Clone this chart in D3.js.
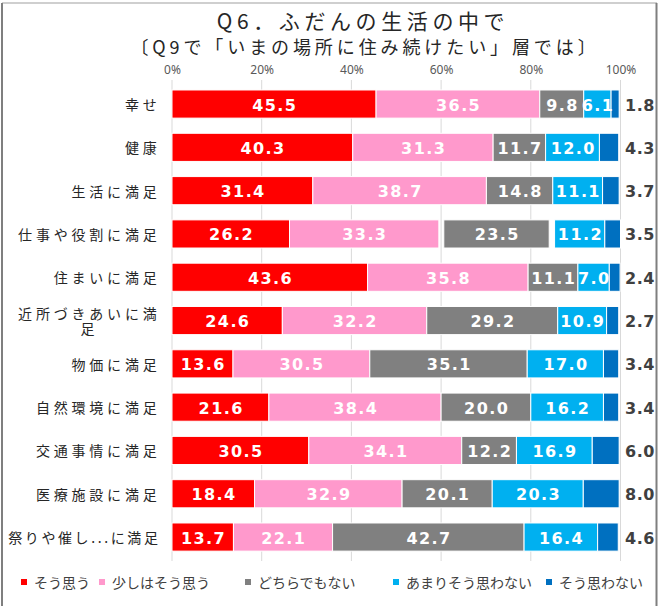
<!DOCTYPE html>
<html>
<head>
<meta charset="utf-8">
<script src="https://cdn.jsdelivr.net/npm/d3@7"></script>
<style>
  body { margin: 0; background: #fff; }
  #chart { width: 661px; height: 606px; }
</style>
</head>
<body>
<div id="chart"></div>
<script>
// --- data ---
const categories = [
  "幸せ", "健康", "生活に満足", "仕事や役割に満足", "住まいに満足",
  "近所づきあいに満\n足", "物価に満足", "自然環境に満足", "交通事情に満足",
  "医療施設に満足", "祭りや催し...に満足"
];
const seriesNames = ["そう思う", "少しはそう思う", "どちらでもない", "あまりそう思わない", "そう思わない"];
const souOmou   = [45.5, 40.3, 31.4, 26.2, 43.6, 24.6, 13.6, 21.6, 30.5, 18.4, 13.7];
const sukoshi   = [36.5, 31.3, 38.7, 33.3, 35.8, 32.2, 30.5, 38.4, 34.1, 32.9, 22.1];
const dochira   = [9.8, 11.7, 14.8, 23.5, 11.1, 29.2, 35.1, 20.0, 12.2, 20.1, 42.7];
const amari     = [6.1, 12.0, 11.1, 11.2, 7.0, 10.9, 17.0, 16.2, 16.9, 20.3, 16.4];
const omowanai  = [1.8, 4.3, 3.7, 3.5, 2.4, 2.7, 3.4, 3.4, 6.0, 8.0, 4.6];
// blank spaces left in the 仕事や役割 bar
const blankA    = [0, 0, 0, 1.1, 0, 0, 0, 0, 0, 0, 0];
const blankB    = [0, 0, 0, 1.2, 0, 0, 0, 0, 0, 0, 0];
const tickValues = [0, 20, 40, 60, 80, 100];

const colors = ["#FF0000", "#FF99CC", "#808080", "#00B0F0", "#0070C0"];

const rows = categories.map((c, i) => ({
  cat: c,
  s0: souOmou[i], s1: sukoshi[i], gA: blankA[i], s2: dochira[i],
  gB: blankB[i], s3: amari[i], s4: omowanai[i]
}));
const keys = ["s0", "s1", "gA", "s2", "gB", "s3", "s4"];
const stacked = d3.stack().keys(keys)(rows);

const W = 661, H = 606;
const svg = d3.select("#chart").append("svg").attr("width", W).attr("height", H);

// frame
svg.append("line").attr("x1", 2).attr("x2", 657).attr("y1", 3).attr("y2", 3)
  .attr("stroke", "#bfbfbf").attr("stroke-width", 1.5);
svg.append("line").attr("x1", 2).attr("x2", 2).attr("y1", 3).attr("y2", H)
  .attr("stroke", "#7f7f7f").attr("stroke-width", 2);
svg.append("line").attr("x1", 656.5).attr("x2", 656.5).attr("y1", 3).attr("y2", H)
  .attr("stroke", "#7f7f7f").attr("stroke-width", 2);

const cjk = "'Noto Sans CJK JP', 'Noto Sans', sans-serif";

// titles
svg.append("text").attr("x", 363).attr("y", 20).attr("text-anchor", "middle")
  .attr("dominant-baseline", "central")
  .style("font-family", cjk).style("font-size", "21px").style("letter-spacing", "4.6px")
  .attr("fill", "#262626")
  .text("Q6．ふだんの生活の中で");
svg.append("text").attr("x", 365).attr("y", 46).attr("text-anchor", "middle")
  .attr("dominant-baseline", "central")
  .style("font-family", cjk).style("font-size", "18px").style("letter-spacing", "3.9px")
  .attr("fill", "#262626")
  .text("〔Q9で「いまの場所に住み続けたい」層では〕");

const x = d3.scaleLinear().domain([0, 100]).range([172, 620.5]);
const y = d3.scaleBand().domain(categories).range([82.4, 558.7])
  .paddingInner(0.35).paddingOuter(0.175);

// gridlines
svg.append("g").selectAll("line").data(tickValues).join("line")
  .attr("x1", d => x(d)).attr("x2", d => x(d))
  .attr("y1", 80).attr("y2", 561)
  .attr("stroke", "#d9d9d9").attr("stroke-width", 1);

// top axis labels
const axis = svg.append("g").attr("transform", "translate(0,77)")
  .call(d3.axisTop(x).tickValues(tickValues).tickSize(0).tickFormat(d => d + "%"));
axis.select(".domain").remove();
axis.selectAll("text")
  .style("font-family", "'Noto Sans', sans-serif").style("font-size", "12px")
  .attr("fill", "#595959");

// bars
const visible = { s0: 0, s1: 1, s2: 2, s3: 3, s4: 4 };
const layers = svg.append("g").selectAll("g")
  .data(stacked.filter(s => s.key in visible)).join("g")
  .attr("fill", s => colors[visible[s.key]]);
layers.selectAll("rect").data(s => s).join("rect")
  .attr("x", d => x(d[0]))
  .attr("y", d => y(d.data.cat))
  .attr("width", d => x(d[1]) - x(d[0]))
  .attr("height", y.bandwidth())
  .attr("stroke", "#fff").attr("stroke-width", 1);

const fmt = d3.format(".1f");
const valFont = "'DejaVu Sans', Verdana, sans-serif";

// labels inside segments (all but last series)
svg.append("g").selectAll("g")
  .data(stacked.filter(s => s.key in visible && s.key !== "s4")).join("g")
  .selectAll("text").data(s => s.map(d => ({ d, v: d.data[s.key] }))).join("text")
  .attr("x", o => (x(o.d[0]) + x(o.d[1])) / 2 + 0.7)
  .attr("y", o => y(o.d.data.cat) + y.bandwidth() / 2 + 1)
  .attr("text-anchor", "middle").attr("dominant-baseline", "central")
  .style("font-family", valFont).style("font-size", "16px").style("font-weight", "bold")
  .style("letter-spacing", "1.4px")
  .attr("fill", "#fff")
  .text(o => fmt(o.v));

// labels for last series, outside the bar
const last = stacked.find(s => s.key === "s4");
svg.append("g").selectAll("text").data(last).join("text")
  .attr("x", x(100) + 19.5)
  .attr("y", d => y(d.data.cat) + y.bandwidth() / 2 + 1)
  .attr("text-anchor", "middle").attr("dominant-baseline", "central")
  .style("font-family", valFont).style("font-size", "16px").style("font-weight", "bold")
  .style("letter-spacing", "0.5px")
  .attr("fill", "#404040")
  .text(d => fmt(d.data.s4));

// category labels
const catG = svg.append("g").selectAll("text").data(categories).join("text")
  .attr("text-anchor", "end")
  .style("font-family", cjk).style("font-size", "14px").style("letter-spacing", "3.8px")
  .attr("fill", "#262626");
catG.each(function (c) {
  const t = d3.select(this);
  const lines = c.split("\n");
  const cy = y(c) + y.bandwidth() / 2;
  const rightEdge = 160.5;
  if (lines.length === 1) {
    t.attr("x", rightEdge).attr("y", cy).attr("dominant-baseline", "central").text(c);
    if (this.getComputedTextLength() > 158) t.style("letter-spacing", "2.6px");
    return;
  }
  // wrapped label: lines centred inside a right-aligned block
  t.attr("text-anchor", "middle");
  const spans = t.selectAll("tspan").data(lines).join("tspan").text(d => d);
  const blockW = d3.max(spans.nodes(), n => n.getComputedTextLength());
  const cx = rightEdge - blockW / 2;
  spans.attr("x", cx)
    .attr("y", (d, i) => cy + (i - (lines.length - 1) / 2) * 15.5)
    .attr("dominant-baseline", "central");
});

// legend
const legendX = [21, 99, 245, 393, 546];
const leg = svg.append("g").selectAll("g").data(seriesNames).join("g")
  .attr("transform", (d, i) => `translate(${legendX[i]},582)`);
leg.append("rect").attr("x", 0).attr("y", -3).attr("width", 6).attr("height", 6)
  .attr("fill", (d, i) => colors[i]);
leg.append("text").attr("x", 13).attr("y", 0).attr("dominant-baseline", "central")
  .style("font-family", cjk).style("font-size", "14px")
  .attr("fill", "#404040")
  .text(d => d);
</script>
</body>
</html>
